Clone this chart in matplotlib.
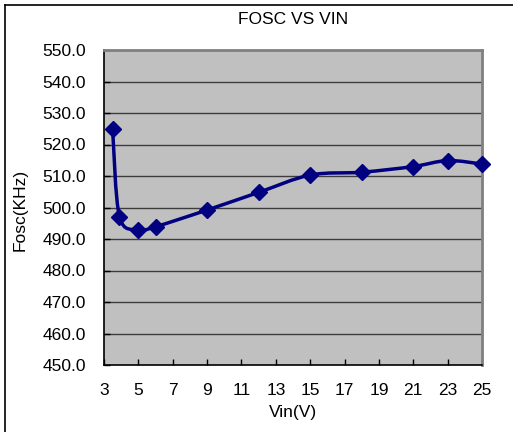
import matplotlib.pyplot as plt
import matplotlib.patches as mplpatches
from matplotlib.path import Path
from matplotlib.lines import Line2D
import numpy as np

plt.rcParams['font.family'] = ['Liberation Sans', 'DejaVu Sans']

# data
vin = [3.5, 3.9, 5, 6, 9, 12, 15, 18, 21, 23, 25]
fosc = [524.9, 497.1, 492.9, 493.9, 499.2, 504.8, 510.3, 511.2, 513.0, 514.9, 513.8]
x_ticks = [3, 5, 7, 9, 11, 13, 15, 17, 19, 21, 23, 25]
y_ticks = [450, 460, 470, 480, 490, 500, 510, 520, 530, 540, 550]

figure_width = 5.13
figure_height = 4.32
fig = plt.figure(figsize=(figure_width, figure_height), dpi=100)

# chart border (only top and left visible in the crop)
fig.add_artist(Line2D([5/513, 5/513], [0, 1-5/432], transform=fig.transFigure,
                      color='black', linewidth=1.2))
fig.add_artist(Line2D([5/513, 1], [1-5/432, 1-5/432], transform=fig.transFigure,
                      color='black', linewidth=1.2))

panel = plt.axes([104/513, (432-365)/432, (482-104)/513, (365-50)/432])
panel.set_facecolor('#c0c0c0')
panel.set_xlim(3, 25)
panel.set_ylim(450, 550)

for y in y_ticks[1:-1]:
    panel.axhline(y, color='#3c3c3c', linewidth=1.0, zorder=1)
panel.axhline(550, color='#808080', linewidth=1.3, zorder=1)

# smoothed line (Excel style bezier through the points)
pts = np.array(list(zip(vin, fosc)))
verts = [tuple(pts[0])]
codes = [Path.MOVETO]
n = len(pts)
for i in range(n-1):
    p0 = pts[i-1] if i > 0 else pts[i]
    p1 = pts[i]
    p2 = pts[i+1]
    p3 = pts[i+2] if i+2 < n else pts[i+1]
    c1 = p1 + (p2 - p0)/6
    c2 = p2 - (p3 - p1)/6
    verts += [tuple(c1), tuple(c2), tuple(p2)]
    codes += [Path.CURVE4, Path.CURVE4, Path.CURVE4]
curve = mplpatches.PathPatch(Path(verts, codes), facecolor='none',
                             edgecolor='#000080', linewidth=2.5, zorder=3,
                             capstyle='round', joinstyle='round')
panel.add_patch(curve)

panel.plot(vin, fosc, linestyle='none', marker='D', markersize=8.5,
           markerfacecolor='#000080', markeredgecolor='#000080', zorder=4,
           clip_on=False)

panel.set_xticks(x_ticks)
panel.set_yticks(y_ticks)
panel.set_yticklabels(['%.1f' % v for v in y_ticks])
panel.tick_params(axis='both', direction='in', length=4, width=1, colors='black',
                  labelsize=12.5)
panel.tick_params(axis='x', pad=13)
panel.tick_params(axis='y', pad=13)

for side in ['top', 'right']:
    panel.spines[side].set_color('#808080')
    panel.spines[side].set_linewidth(2)
for side in ['left', 'bottom']:
    panel.spines[side].set_color('black')
    panel.spines[side].set_linewidth(1.2)

fig.text((104+482)/2/513, 1-20/432, 'FOSC VS VIN', ha='center', va='center',
         fontsize=12.5)
fig.text((104+482)/2/513, 1-412/432, 'Vin(V)', ha='center', va='center',
         fontsize=12.5)
fig.text(20/513, 1-210/432, 'Fosc(KHz)', ha='center', va='center',
         rotation=90, fontsize=12.5)

plt.savefig('out.png', dpi=100)
